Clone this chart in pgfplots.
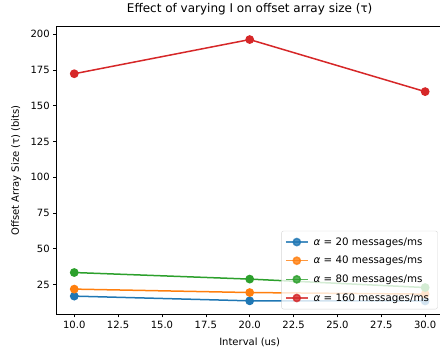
\documentclass[border=0pt]{standalone}
\usepackage{fontspec}
\setmainfont{DejaVu Sans}
\usepackage{pgfplots}
\pgfplotsset{compat=1.18}

\definecolor{tabblue}{HTML}{1F77B4}
\definecolor{taborange}{HTML}{FF7F0E}
\definecolor{tabgreen}{HTML}{2CA02C}
\definecolor{tabred}{HTML}{D62728}

\begin{document}
\begin{tikzpicture}
\begin{axis}[
  at={(56.7pt,38pt)}, anchor=south west,
  scale only axis,
  width=386pt, height=287.3pt,
  xmin=9, xmax=31,
  ymin=4.4, ymax=205.3,
  xtick={10,12.5,...,30},
  ytick={25,50,...,200},
  /pgf/number format/assume math mode=true,
  xticklabel style={/pgf/number format/fixed,/pgf/number format/fixed zerofill,/pgf/number format/precision=1},
  yticklabel style={/pgf/number format/fixed},
  scaled ticks=false,
  tick align=outside,
  major tick length=3.5pt,
  tick style={black, line width=0.6pt},
  axis line style={line width=0.6pt},
  xtick pos=bottom, ytick pos=left,
  every tick label/.append style={font=\fontsize{10}{12}\selectfont},
  title={Effect of varying I on offset array size (τ)},
  title style={at={(axis description cs:0.5,1.0407)}, anchor=center, font=\fontsize{12}{14}\selectfont},
  xlabel={Interval (us)},
  xlabel style={at={(axis description cs:0.5,-0.0975)}, anchor=center, font=\fontsize{10}{12}\selectfont},
  ylabel={Offset Array Size (τ) (bits)},
  ylabel style={at={(axis description cs:-0.1054,0.5)}, anchor=center, font=\fontsize{10}{12}\selectfont},
  every axis plot/.append style={line width=1.5pt, mark=*, mark size=3.6pt},
  legend style={
    at={(0.987,0.0164)}, anchor=south east,
    fill=white, fill opacity=0.8, draw opacity=0.8, text opacity=1,
    draw=black!20, rounded corners=2pt,
    font=\fontsize{10.3}{12}\selectfont,
    row sep=5.5pt, inner xsep=3.5pt, inner ysep=4.5pt,
    nodes={inner xsep=5pt},
  },
  legend cell align=left,
  legend image code/.code={
    \draw[mark repeat=2, mark phase=2] plot coordinates {(0pt,0pt) (11pt,0pt) (22pt,0pt)};
  },
]
\addplot[color=tabblue, mark options={fill=tabblue, draw=tabblue}] coordinates {(10,16.9) (20,13.6) (30,13.5)};
\addlegendentry{\textit{α} = 20 messages/ms}
\addplot[color=taborange, mark options={fill=taborange, draw=taborange}] coordinates {(10,21.8) (20,19.4) (30,18.3)};
\addlegendentry{\textit{α} = 40 messages/ms}
\addplot[color=tabgreen, mark options={fill=tabgreen, draw=tabgreen}] coordinates {(10,33.4) (20,28.8) (30,22.9)};
\addlegendentry{\textit{α} = 80 messages/ms}
\addplot[color=tabred, mark options={fill=tabred, draw=tabred}] coordinates {(10,172.4) (20,196.3) (30,159.9)};
\addlegendentry{\textit{α} = 160 messages/ms}
\end{axis}
\pgfresetboundingbox
\path[use as bounding box] (0pt,0pt) rectangle (440pt,352pt);
\end{tikzpicture}
\end{document}
